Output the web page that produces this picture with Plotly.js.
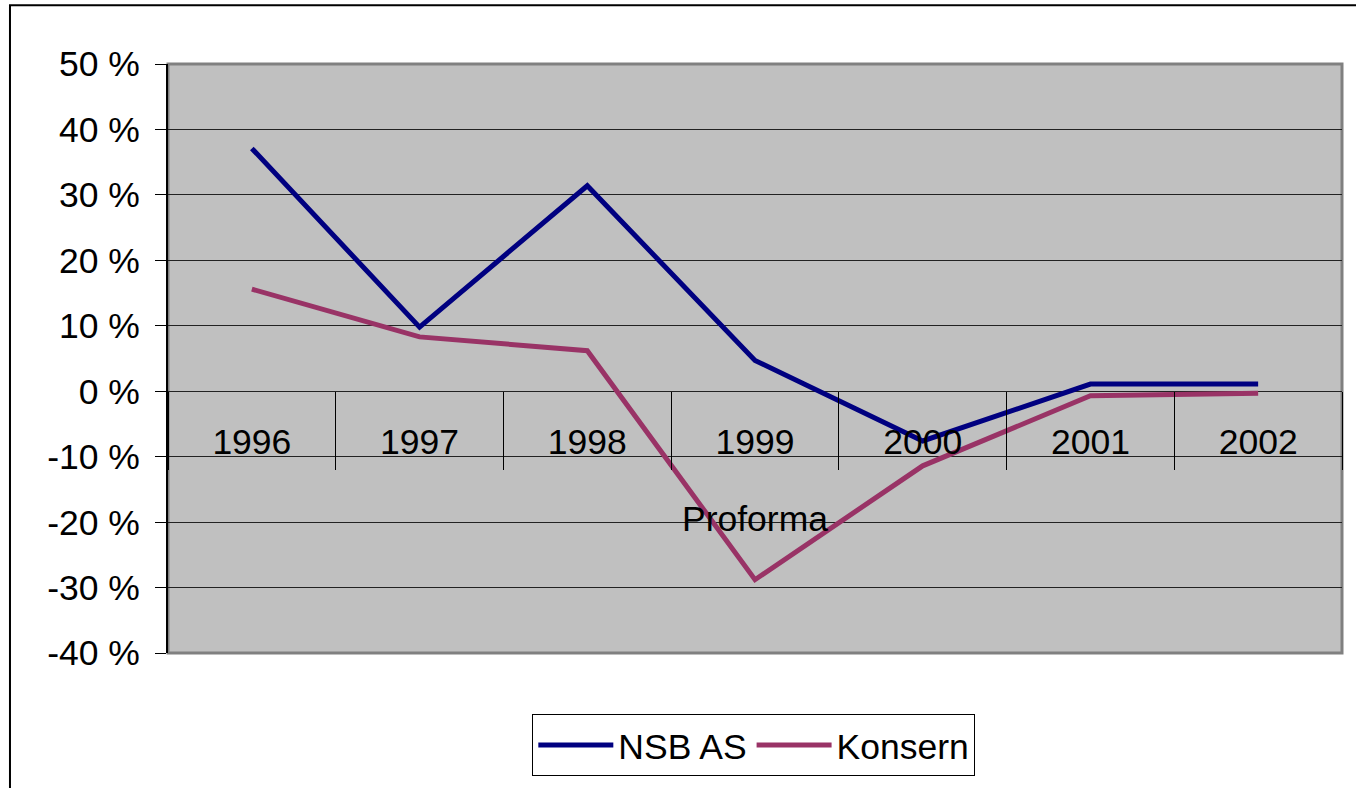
<!DOCTYPE html>
<html>
<head>
<meta charset="utf-8">
<script src="https://cdn.plot.ly/plotly-3.0.1.min.js"></script>
<style>html,body{margin:0;padding:0;background:#fff;}#chart{width:1356px;height:788px;}</style>
</head>
<body>
<div id="chart"></div>
<script>
const years = ['1996','1997','1998','1999','2000','2001','2002'];
const nsbAS = [37.1, 9.8, 31.4, 4.7, -7.6, 1.1, 1.1];
const konsern = [15.6, 8.3, 6.2, -28.8, -11.4, -0.7, -0.3];
const yTickVals = [-40, -30, -20, -10, 0, 10, 20, 30, 40, 50];
const yTickText = ['-40 %', '-30 %', '-20 %', '-10 %', '0 %', '10 %', '20 %', '30 %', '40 %', '50 %'];
const noteText = 'Proforma';

const FONT = '"Liberation Sans", Arial, sans-serif';
const FS = 35.5;
const zeroPos = (0 - (-40)) / (50 - (-40));

const traces = [
  {x: years, y: nsbAS, name: 'NSB AS', type: 'scatter', mode: 'lines',
   line: {color: '#000080', width: 5}, xaxis: 'x', yaxis: 'y'},
  {x: years, y: konsern, name: 'Konsern', type: 'scatter', mode: 'lines',
   line: {color: '#993366', width: 5}, xaxis: 'x', yaxis: 'y'},
  {x: years, y: years.map(() => null), xaxis: 'x2', yaxis: 'y',
   type: 'scatter', mode: 'lines', showlegend: false, hoverinfo: 'skip'}
];

const layout = {
  width: 1356, height: 788,
  margin: {l: 168, r: 14, t: 64, b: 133},
  paper_bgcolor: '#ffffff',
  plot_bgcolor: '#C0C0C0',
  font: {family: FONT, size: FS, color: '#000'},
  showlegend: true,
  legend: {orientation: 'h', x: 0.499, y: -0.157, xanchor: 'center', yanchor: 'middle',
           bgcolor: '#fff', bordercolor: '#000', borderwidth: 1,
           itemwidth: 75,
           font: {family: FONT, size: FS, color: '#000'}},
  xaxis: {type: 'category', categoryorder: 'array', categoryarray: years,
          range: [-0.5, 6.5], anchor: 'free', position: zeroPos,
          showgrid: false, zeroline: false, showline: false,
          ticks: '', ticklabelstandoff: 26, tickfont: {family: FONT, size: FS, color: '#000'}},
  xaxis2: {type: 'category', categoryorder: 'array', categoryarray: years,
           range: [-0.5, 6.5], overlaying: 'x', anchor: 'free', position: zeroPos,
           tickson: 'boundaries', ticks: 'outside', ticklen: 78, tickcolor: '#000', tickwidth: 1,
           showticklabels: false, showgrid: false, zeroline: false, showline: false},
  yaxis: {range: [-40, 50], tickvals: yTickVals, ticktext: yTickText,
          showgrid: true, gridcolor: '#222', gridwidth: 1, zeroline: false,
          showline: true, linecolor: '#000', linewidth: 2,
          ticks: 'outside', ticklen: 11, tickcolor: '#000', tickwidth: 1,
          ticklabelstandoff: 8,
          tickfont: {family: FONT, size: FS, color: '#000'}},
  annotations: [
    {x: 0.5, y: -19.5, xref: 'paper', yref: 'y', text: noteText, showarrow: false,
     font: {family: FONT, size: FS, color: '#000'}, xanchor: 'center', yanchor: 'middle'}
  ],
  shapes: [
    {type: 'rect', xref: 'paper', yref: 'paper', x0: 0, x1: 1, y0: 0, y1: 1,
     line: {color: '#808080', width: 3}, layer: 'below'},
    {type: 'rect', xref: 'paper', yref: 'paper', x0: -0.1346, x1: 1.05, y0: -0.3, y1: 1.0998,
     line: {color: '#000', width: 2}, layer: 'above'}
  ]
};

Plotly.newPlot('chart', traces, layout, {displayModeBar: false, staticPlot: true});
</script>
</body>
</html>
